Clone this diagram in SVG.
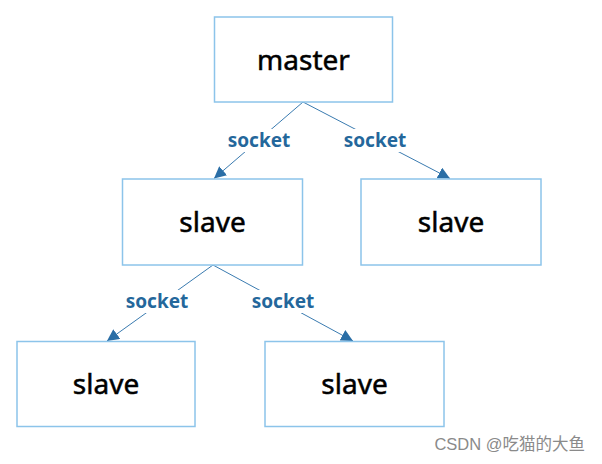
<svg xmlns="http://www.w3.org/2000/svg" width="602" height="464" viewBox="0 0 602 464">
<defs>
<style>
.box{fill:#fff;stroke:#8cc4ea;stroke-width:1.5}
.nt{font-family:"Noto Sans","Open Sans",sans-serif;font-size:28px;fill:#000;stroke:#000;stroke-width:0.5;text-anchor:middle}
.edge{stroke:#3a7bb0;stroke-width:1;fill:none}
.lb{font-family:"Noto Sans","Open Sans",sans-serif;font-size:19px;font-weight:bold;fill:#24679b;text-anchor:middle}
.lbg{fill:#fff}
</style>
<marker id="arr" viewBox="0 0 10 10" refX="10" refY="5" markerWidth="12" markerHeight="12" markerUnits="userSpaceOnUse" orient="auto">
<path d="M0,0 L10,5 L0,10 z" fill="#2a6ea6"/>
</marker>
</defs>
<rect width="602" height="464" fill="#fff"/>
<g id="connectors">
<line class="edge" x1="303" y1="102" x2="214" y2="178.5" marker-end="url(#arr)"/>
<line class="edge" x1="303" y1="102" x2="450" y2="178.5" marker-end="url(#arr)"/>
<line class="edge" x1="213" y1="265" x2="107" y2="341" marker-end="url(#arr)"/>
<line class="edge" x1="213" y1="265" x2="353" y2="341" marker-end="url(#arr)"/>
<rect class="lbg" x="226" y="129" width="66" height="23"/>
<text class="lb" x="259" y="147">socket</text>
<rect class="lbg" x="342" y="129" width="66" height="23"/>
<text class="lb" x="375" y="147">socket</text>
<rect class="lbg" x="124" y="290" width="66" height="23"/>
<text class="lb" x="157" y="308">socket</text>
<rect class="lbg" x="250" y="290" width="66" height="23"/>
<text class="lb" x="283" y="308">socket</text>
</g>
<g id="master">
<rect class="box" x="214.5" y="17" width="178" height="85"/>
<text class="nt" x="303.5" y="70">master</text>
</g>
<g id="slave1">
<rect class="box" x="122.5" y="179" width="180" height="86"/>
<text class="nt" x="212.5" y="232">slave</text>
</g>
<g id="slave2">
<rect class="box" x="361" y="179" width="180" height="86"/>
<text class="nt" x="451" y="232">slave</text>
</g>
<g id="slave3">
<rect class="box" x="17" y="341.5" width="178" height="85"/>
<text class="nt" x="106" y="394">slave</text>
</g>
<g id="slave4">
<rect class="box" x="265" y="341.5" width="179" height="85"/>
<text class="nt" x="354.5" y="394">slave</text>
</g>
<text x="585" y="450" font-family="'Liberation Sans','Noto Sans CJK SC',sans-serif" font-size="16.5" fill="#8a8a8a" text-anchor="end">CSDN @吃猫的大鱼</text>
</svg>
